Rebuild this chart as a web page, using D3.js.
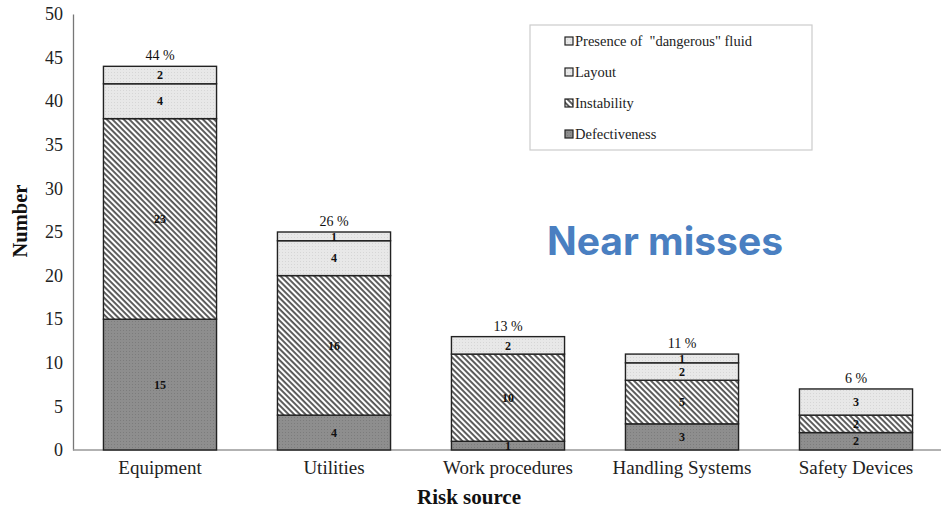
<!DOCTYPE html>
<html><head><meta charset="utf-8">
<script src="https://cdn.jsdelivr.net/npm/d3@7"></script>
<style>body{margin:0;background:#fff}svg{display:block}
.serif{font-family:"Liberation Serif","Times New Roman",Times,serif}</style>
</head><body>
<svg id="c" width="941" height="512"></svg>
<script>
const categories = ["Equipment","Utilities","Work procedures","Handling Systems","Safety Devices"];
const defectiveness = [15,4,1,3,2];
const instability = [23,16,10,5,2];
const layout = [4,4,2,2,3];
const dangerousFluid = [2,1,0,1,0];
const percentLabels = ["44 %","26 %","13 %","11 %","6 %"];
const yTicks = [0,5,10,15,20,25,30,35,40,45,50];
const seriesNames = ["Defectiveness","Instability","Layout","Presence of  \"dangerous\" fluid"];
const seriesKeys = ["def","ins","lay","dan"];

const svg = d3.select("#c");

const defs = svg.append("defs");
const pd = defs.append("pattern").attr("id","pDef").attr("patternUnits","userSpaceOnUse").attr("width",3).attr("height",3);
pd.append("rect").attr("width",3).attr("height",3).attr("fill","#8e8e8e");
pd.append("rect").attr("x",0).attr("y",0).attr("width",1).attr("height",1).attr("fill","#7c7c7c");
const ph = defs.append("pattern").attr("id","pIns").attr("patternUnits","userSpaceOnUse").attr("width",4).attr("height",4).attr("patternTransform","rotate(45)");
ph.append("rect").attr("width",4).attr("height",4).attr("fill","#ffffff");
ph.append("rect").attr("x",0).attr("y",0).attr("width",4).attr("height",1.9).attr("fill","#555");
const pl = defs.append("pattern").attr("id","pLay").attr("patternUnits","userSpaceOnUse").attr("width",3).attr("height",3);
pl.append("rect").attr("width",3).attr("height",3).attr("fill","#e8e8e8");
pl.append("rect").attr("width",1).attr("height",1).attr("fill","#d6d6d6");
const fills = {def:"url(#pDef)",ins:"url(#pIns)",lay:"url(#pLay)",dan:"url(#pLay)"};

const x = d3.scaleBand().domain(categories).range([73,943]).paddingInner(0.35).paddingOuter(0.175);
const y = d3.scaleLinear().domain([0,50]).range([450,14]);

const rows = categories.map((c,i)=>({cat:c,def:defectiveness[i],ins:instability[i],lay:layout[i],dan:dangerousFluid[i],pct:percentLabels[i]}));
const stacked = d3.stack().keys(seriesKeys)(rows);

const yAxis = d3.axisLeft(y).tickValues(yTicks).tickSize(0).tickPadding(10);
const gy = svg.append("g").attr("transform","translate(73,0)").call(yAxis);
gy.attr("font-family",null);
gy.select(".domain").attr("stroke","#777").attr("stroke-width",1.3);
gy.selectAll("text").attr("class","serif").attr("font-size",18).attr("fill","#222");

svg.append("line").attr("x1",73).attr("x2",941).attr("y1",y(0)).attr("y2",y(0)).attr("stroke","#999").attr("stroke-width",1.5);

const xAxis = d3.axisBottom(x).tickSize(0).tickPadding(11);
const gx = svg.append("g").attr("transform",`translate(0,${y(0)})`).call(xAxis);
gx.attr("font-family",null);
gx.select(".domain").remove();
gx.selectAll("text").attr("class","serif").attr("font-size",19).attr("fill","#222");

stacked.forEach(s=>{
  const g = svg.append("g");
  s.forEach(d=>{
    if (d[1]-d[0] <= 0) return;
    g.append("rect").attr("x",x(d.data.cat)).attr("width",x.bandwidth())
     .attr("y",y(d[1])).attr("height",y(d[0])-y(d[1]))
     .attr("fill",fills[s.key]).attr("stroke","#222").attr("stroke-width",1.4);
    g.append("text").attr("class","serif").attr("x",x(d.data.cat)+x.bandwidth()/2).attr("y",(y(d[0])+y(d[1]))/2)
     .attr("dy","0.35em").attr("text-anchor","middle")
     .attr("font-weight","bold").attr("font-size",12).attr("fill","#111").text(d[1]-d[0]);
  });
});

const topSeries = stacked[stacked.length-1];
topSeries.forEach(d=>{
  svg.append("text").attr("class","serif").attr("x",x(d.data.cat)+x.bandwidth()/2).attr("y",y(d[1])-6)
   .attr("text-anchor","middle").attr("font-size",14).attr("fill","#111").text(d.data.pct);
});

svg.append("text").attr("class","serif").attr("transform","translate(27,221) rotate(-90)").attr("text-anchor","middle")
  .attr("font-weight","bold").attr("font-size",20.5).attr("fill","#111").text("Number");
svg.append("text").attr("class","serif").attr("x",469).attr("y",504).attr("text-anchor","middle")
  .attr("font-weight","bold").attr("font-size",21).attr("fill","#111").text("Risk source");

const lg = svg.append("g");
lg.append("rect").attr("x",530).attr("y",25).attr("width",282).attr("height",125).attr("fill","#fff").attr("stroke","#ccc").attr("stroke-width",1.2);
const legendOrder = [3,2,1,0];
legendOrder.forEach((si,j)=>{
  const cy = 41 + j*31;
  lg.append("rect").attr("x",565).attr("y",cy-4).attr("width",8).attr("height",8)
    .attr("fill",fills[seriesKeys[si]]).attr("stroke","#222").attr("stroke-width",1.2);
  lg.append("text").attr("class","serif").attr("x",575).attr("y",cy).attr("dy","0.35em")
    .attr("font-size",14.5).attr("fill","#222").style("white-space","pre").text(seriesNames[si]);
});

svg.append("text").attr("x",547).attr("y",255).attr("font-family","Inter, 'Open Sans', sans-serif")
  .attr("font-weight","bold").attr("font-size",39).attr("fill","#4a7fc1").text("Near misses");
</script>
</body></html>
